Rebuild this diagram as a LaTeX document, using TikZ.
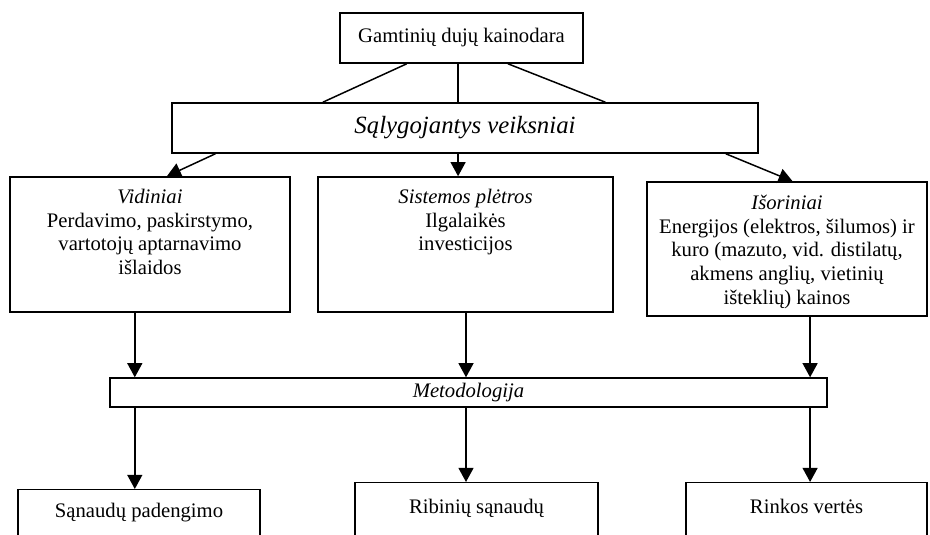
\documentclass[tikz,border=0pt]{standalone}
\usepackage{fontspec}
\setmainfont{Liberation Serif}
\usetikzlibrary{arrows.meta,positioning,calc}

\begin{document}
\begin{tikzpicture}[x=0.605pt, y=-0.605pt, line width=0.9pt,
  font=\fontsize{12.5pt}{14.3pt}\selectfont,
  kbox/.style={draw, inner sep=0pt},
  ktxt/.style={align=center, inner sep=0pt},
  arr/.style={-{Triangle[length=8.5pt,width=9pt]}}]

\useasboundingbox (0,0) rectangle (930,534);
\clip (0,0) rectangle (930,534);

\node[kbox, minimum width=147pt, minimum height=30.3pt] (gdk) at (461.5,38) {Gamtinių dujų kainodara};

\node[kbox, minimum width=354.5pt, minimum height=30.3pt, font=\fontsize{15pt}{18pt}\selectfont\itshape] (sv) at (465,128) {Sąlygojantys veiksniai};

\draw ($(gdk.south west)!.276!(gdk.south east)$) -- ($(sv.north west)!.258!(sv.north east)$);
\draw ($(gdk.south west)!.486!(gdk.south east)$) coordinate (m1) -- (m1 |- sv.north);
\draw ($(gdk.south west)!.69!(gdk.south east)$) -- ($(sv.north west)!.739!(sv.north east)$);

% veiksniai
\node[kbox, minimum width=169.4pt, minimum height=81.7pt] (vid) at (150,244.5) { };
\node[ktxt, below=7.5pt of vid.north] (vidt) {\textit{Vidiniai}\\Perdavimo, paskirstymo,\\vartotojų aptarnavimo\\išlaidos};

\node[kbox, minimum width=178.5pt, minimum height=81.7pt] (sis) at (465.5,244.5) { };
\node[ktxt, below=7.5pt of sis.north] (sist) {\textit{Sistemos plėtros}\\Ilgalaikės\\investicijos};

\node[kbox, minimum width=169.4pt, minimum height=81pt] (iso) at (787,249) { };
\node[ktxt, below=8pt of iso.north] (isot) {\textit{Išoriniai}\\Energijos (elektros, šilumos) ir\\kuro (mazuto, vid. distilatų,\\akmens anglių, vietinių\\išteklių) kainos};

\draw[arr] ($(sv.south west)!.075!(sv.south east)$) -- ($(vid.north west)!.56!(vid.north east)$);
\draw[arr] (m1 |- sv.south) -- (m1 |- sis.north);
\draw[arr] ($(sv.south west)!.944!(sv.south east)$) -- ($(iso.north west)!.52!(iso.north east)$);

\node[kbox, minimum width=433.8pt, minimum height=17.5pt, font=\fontsize{12.5pt}{14.3pt}\selectfont\itshape] (met) at (468.5,392.5) {Metodologija};

\draw[arr] ($(vid.south west)!.446!(vid.south east)$) coordinate (c1) -- (c1 |- met.north);
\draw[arr] ($(sis.south west)!.5017!(sis.south east)$) coordinate (c2) -- (c2 |- met.north);
\draw[arr] ($(iso.south west)!.582!(iso.south east)$) coordinate (c3) -- (c3 |- met.north);

% metodai
\node[kbox, anchor=north, minimum width=146.4pt, minimum height=60pt] (sp) at (139,489) { };
\node[ktxt, below=8.1pt of sp.north] (spt) {Sąnaudų padengimo};

\node[kbox, anchor=north, minimum width=147pt, minimum height=60pt] (rs) at (476.5,482) { };
\node[ktxt, below=9.8pt of rs.north] (rst) {Ribinių sąnaudų};

\node[kbox, anchor=north, minimum width=145.8pt, minimum height=60pt] (rv) at (806.5,482) { };
\node[ktxt, below=9.8pt of rv.north] (rvt) {Rinkos vertės};

\draw[arr] (c1 |- met.south) -- (c1 |- sp.north);
\draw[arr] (c2 |- met.south) -- (c2 |- rs.north);
\draw[arr] (c3 |- met.south) -- (c3 |- rv.north);

\end{tikzpicture}
\end{document}
